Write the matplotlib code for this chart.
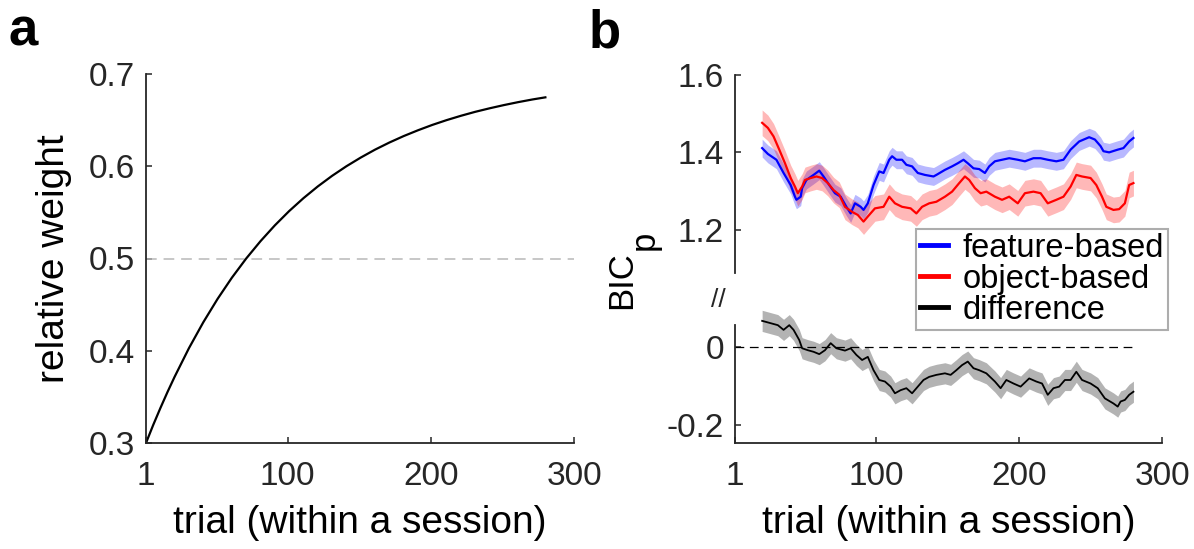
import matplotlib
matplotlib.use('Agg')
import matplotlib.pyplot as plt

plt.rcParams['font.family'] = ['Liberation Sans', 'DejaVu Sans']
plt.rcParams['axes.unicode_minus'] = False

# ---------------- data ----------------
# panel a
weight_trials = [1, 6, 11, 16, 21, 31, 41, 51, 61, 71, 81, 91, 101, 111, 121, 131, 141, 151,
                 161, 171, 181, 191, 201, 211, 221, 231, 241, 251, 261, 271, 280]
weight_values = [0.3000, 0.3194, 0.3377, 0.3552, 0.3718, 0.4028, 0.4308, 0.4562, 0.4792,
                 0.5000, 0.5188, 0.5359, 0.5514, 0.5654, 0.5781, 0.5896, 0.6000, 0.6094,
                 0.6180, 0.6257, 0.6327, 0.6390, 0.6448, 0.6500, 0.6547, 0.6590, 0.6628,
                 0.6663, 0.6695, 0.6724, 0.6747]

# panel b
feature_trials = [20, 24, 30, 35, 40, 43, 44, 47, 48, 51, 56, 60, 63, 67, 71, 75, 79, 82,
                  85, 89, 91, 94, 98, 102, 105, 109, 111, 114, 118, 121, 125, 129, 134,
                  140, 142, 148, 153, 157, 161, 164, 168, 172, 176, 179, 183, 188, 193,
                  199, 204, 210, 215, 220, 226, 231, 236, 242, 249, 253, 257, 259, 263,
                  269, 273, 277, 280]
feature_values = [1.411, 1.396, 1.381, 1.347, 1.316, 1.286, 1.278, 1.286, 1.308, 1.329,
                  1.342, 1.353, 1.338, 1.316, 1.295, 1.286, 1.260, 1.243, 1.269, 1.260,
                  1.252, 1.269, 1.316, 1.351, 1.347, 1.381, 1.390, 1.381, 1.381, 1.368,
                  1.364, 1.347, 1.342, 1.338, 1.342, 1.355, 1.364, 1.372, 1.381, 1.372,
                  1.359, 1.357, 1.347, 1.364, 1.377, 1.381, 1.385, 1.381, 1.377, 1.385,
                  1.385, 1.381, 1.377, 1.381, 1.407, 1.428, 1.439, 1.433, 1.416, 1.403,
                  1.400, 1.407, 1.411, 1.428, 1.437]

object_trials = [20, 24, 28, 32, 36, 40, 43, 45, 48, 50, 54, 58, 62, 66, 70, 74, 78, 83,
                 87, 91, 94, 99, 105, 109, 113, 118, 124, 128, 132, 137, 142, 148, 153,
                 158, 162, 165, 169, 173, 177, 183, 188, 193, 199, 204, 210, 215, 220,
                 226, 231, 236, 240, 244, 250, 254, 258, 261, 266, 270, 274, 277, 280]
object_values = [1.476, 1.463, 1.441, 1.407, 1.372, 1.334, 1.312, 1.295, 1.312, 1.329,
                 1.334, 1.338, 1.334, 1.321, 1.303, 1.291, 1.260, 1.247, 1.239, 1.222,
                 1.235, 1.256, 1.260, 1.286, 1.269, 1.260, 1.256, 1.243, 1.260, 1.269,
                 1.273, 1.286, 1.299, 1.321, 1.338, 1.329, 1.308, 1.295, 1.299, 1.286,
                 1.278, 1.286, 1.269, 1.295, 1.299, 1.295, 1.269, 1.278, 1.286, 1.312,
                 1.342, 1.338, 1.334, 1.316, 1.286, 1.260, 1.252, 1.254, 1.269, 1.316,
                 1.321]

diff_trials = [20, 25, 31, 35, 39, 42, 46, 48, 52, 56, 60, 64, 68, 72, 78, 82, 86, 90,
               94, 98, 102, 106, 110, 113, 117, 121, 125, 129, 133, 137, 142, 148, 152,
               156, 160, 164, 168, 172, 177, 183, 187, 191, 196, 201, 207, 212, 216, 220,
               224, 228, 232, 236, 240, 244, 250, 255, 260, 266, 269, 271, 274, 277, 280]
diff_values = [0.066, 0.061, 0.055, 0.043, 0.055, 0.043, 0.017, -0.004, -0.009, -0.013,
               -0.019, -0.009, 0.009, -0.004, -0.010, -0.004, -0.021, -0.034, -0.026,
               -0.060, -0.085, -0.089, -0.102, -0.119, -0.111, -0.106, -0.119, -0.102,
               -0.085, -0.077, -0.072, -0.068, -0.072, -0.060, -0.047, -0.038, -0.055,
               -0.060, -0.068, -0.089, -0.106, -0.085, -0.094, -0.102, -0.081, -0.089,
               -0.094, -0.123, -0.106, -0.102, -0.085, -0.085, -0.064, -0.085, -0.094,
               -0.106, -0.132, -0.145, -0.153, -0.140, -0.136, -0.123, -0.115]

feature_sem = 0.023
object_sem = 0.033
diff_sem = 0.027

x_ticks = [1, 100, 200, 300]
x_tick_labels = ['1', '100', '200', '300']
a_yticks = [0.3, 0.4, 0.5, 0.6, 0.7]
a_ytick_labels = ['0.3', '0.4', '0.5', '0.6', '0.7']
b_top_yticks = [1.2, 1.4, 1.6]
b_top_ytick_labels = ['1.2', '1.4', '1.6']
b_bot_yticks = [-0.2, 0]
b_bot_ytick_labels = ['-0.2', '0']
legend_labels = ['feature-based', 'object-based', 'difference']

# ---------------- style ----------------
W, H = 1194, 549
AX_COL = '#262626'
TICK_FS = 24
LABEL_FS = 28
BLUE = (0, 0, 1)
RED = (1, 0, 0)

fig = plt.figure(figsize=(W / 100, H / 100), dpi=100)


def fx(px):
    return px / W


def fy(py):
    return 1 - py / H


def style(ax, xpad=13):
    for s in ['top', 'right']:
        ax.spines[s].set_visible(False)
    for s in ['left', 'bottom']:
        ax.spines[s].set_color(AX_COL)
        ax.spines[s].set_linewidth(1.3)
    ax.tick_params(direction='in', length=4, width=1.1, colors=AX_COL,
                   labelsize=TICK_FS, labelcolor=AX_COL)
    ax.tick_params(axis='y', pad=8)
    ax.tick_params(axis='x', pad=xpad)
    ax.patch.set_alpha(0)


# panel a
L, R = 146, 574
axa = fig.add_axes([fx(L), fy(443), fx(R - L), (443 - 74) / H])
axa.plot([1, 300], [0.5, 0.5], color=(0.72, 0.72, 0.72), lw=1.1, dashes=(7, 4.5))
axa.plot(weight_trials, weight_values, color='k', lw=1.6)
axa.set_xlim(1, 300)
axa.set_ylim(0.3, 0.7)
axa.set_xticks(x_ticks)
axa.set_xticklabels(x_tick_labels)
axa.set_yticks(a_yticks)
axa.set_yticklabels(a_ytick_labels)
style(axa)
axa.set_xlabel('trial (within a session)', fontsize=LABEL_FS, labelpad=9)
axa.set_ylabel('relative weight', fontsize=LABEL_FS, labelpad=12)

# panel b top
L2, R2 = 735, 1162
top_lo = 1.089
axt = fig.add_axes([fx(L2), fy(273.3), fx(R2 - L2), (273.3 - 74.6) / H])
ft_lo = [v - feature_sem for v in feature_values]
ft_hi = [v + feature_sem for v in feature_values]
ob_lo = [v - object_sem for v in object_values]
ob_hi = [v + object_sem for v in object_values]
axt.fill_between(feature_trials, ft_lo, ft_hi, color=BLUE, alpha=0.28, lw=0)
axt.fill_between(object_trials, ob_lo, ob_hi, color=RED, alpha=0.28, lw=0)
lf, = axt.plot(feature_trials, feature_values, color=BLUE, lw=1.6)
lo, = axt.plot(object_trials, object_values, color=RED, lw=1.6)
axt.set_xlim(1, 300)
axt.set_ylim(top_lo, 1.6)
axt.set_yticks(b_top_yticks)
axt.set_yticklabels(b_top_ytick_labels)
style(axt)
axt.spines['bottom'].set_visible(False)
axt.tick_params(axis='x', bottom=False, labelbottom=False)

# panel b bottom
bot_lo, bot_spine_hi, bot_hi = -0.246, 0.055, 0.095
bot_top_px = 346.7 - bot_hi * 391.5
axb = fig.add_axes([fx(L2), fy(443), fx(R2 - L2), (443 - bot_top_px) / H])
d_lo = [v - diff_sem for v in diff_values]
d_hi = [v + diff_sem for v in diff_values]
axb.fill_between(diff_trials, d_lo, d_hi, color=(0.7, 0.7, 0.7), lw=0)
axb.plot([1, 280], [0, 0], color='k', lw=0.9, dashes=(7, 4.5))
ld, = axb.plot(diff_trials, diff_values, color='k', lw=1.3)
axb.set_xlim(1, 300)
axb.set_ylim(bot_lo, bot_hi)
axb.set_xticks(x_ticks)
axb.set_xticklabels(x_tick_labels)
axb.set_yticks(b_bot_yticks)
axb.set_yticklabels(b_bot_ytick_labels)
style(axb)
axb.spines['left'].set_bounds(bot_lo, bot_spine_hi)
axb.set_xlabel('trial (within a session)', fontsize=LABEL_FS, labelpad=9)

# legend
leg = fig.legend([lf, lo, ld], legend_labels, loc='upper left',
                 bbox_to_anchor=(fx(916), fy(229)), borderaxespad=0,
                 fontsize=23.5, frameon=True, fancybox=False, handlelength=0.85,
                 handletextpad=0.45, labelspacing=0.0, borderpad=0.12)
leg.get_frame().set_edgecolor((0.6, 0.6, 0.6))
leg.get_frame().set_linewidth(1.5)
for line in leg.get_lines():
    line.set_linewidth(3.5)

# BIC_p label
t1 = fig.text(fx(631), fy(309), 'BIC', fontsize=LABEL_FS - 3, rotation=90,
              rotation_mode='anchor', ha='left', va='baseline')
fig.canvas.draw()
bb = t1.get_window_extent(fig.canvas.get_renderer())
fig.text(fx(654), bb.y1 / H + 0.003, 'p', fontsize=LABEL_FS - 3, rotation=90,
         rotation_mode='anchor', ha='left', va='baseline')

# break mark
fig.text(fx(718), fy(300), '//', fontsize=19, color=AX_COL, ha='center', va='center')

# panel letters
fig.text(fx(9), fy(46), 'a', fontsize=38, fontweight='bold', va='baseline')
fig.text(fx(589), fy(48), 'b', fontsize=38, fontweight='bold', va='baseline')

fig.savefig('out.png', dpi=100)
